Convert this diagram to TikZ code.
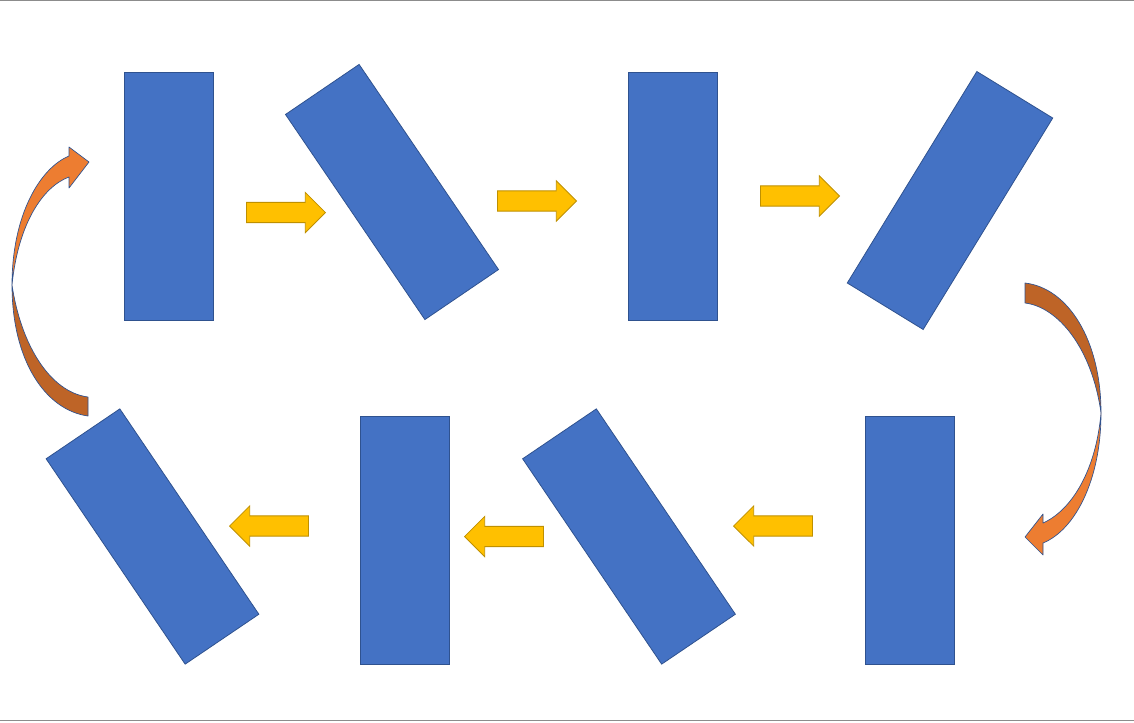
\documentclass[tikz,border=0pt]{standalone}
\usetikzlibrary{shapes.arrows}

\definecolor{barblue}{HTML}{4472C4}
\definecolor{barline}{HTML}{2F528F}
\definecolor{arrowgold}{HTML}{FFC000}
\definecolor{arrowline}{HTML}{BF9000}
\definecolor{turnlight}{HTML}{ED7D31}
\definecolor{turndark}{HTML}{BE6427}
\definecolor{framegray}{HTML}{8C8C8C}

\begin{document}
\begin{tikzpicture}[x=0.75pt, y=-0.75pt,
  bar/.style={draw=barline, line width=0.6pt, fill=barblue, inner sep=0pt,
    minimum width=66.75pt, minimum height=186pt},
  push/.style={single arrow, draw=arrowline, line width=0.6pt, fill=arrowgold,
    inner xsep=0pt, inner ysep=7.3pt, minimum width=1pt, minimum height=59.25pt,
    single arrow head extend=7.5pt, anchor=tip},
  turn/.style={draw=barline, line width=0.5pt, line join=round}]
\useasboundingbox (0,0) rectangle (1134,722);
% frame lines
\draw[framegray, line width=1pt] (0,0.7) -- (1134,0.7);
\draw[framegray, line width=1pt] (0,720.5) -- (1134,720.5);
% top row
\node[bar] (bar1) at (168.5,196) {};
\node[bar, rotate=34.2] (bar2) at (392,192) {};
\node[bar] (bar3) at (673,196) {};
\node[bar, rotate=-31.5] (bar4) at (950,200.5) {};
% bottom row
\node[bar] (bar5) at (910,540) {};
\node[bar, rotate=34.1] (bar6) at (629,536.5) {};
\node[bar] (bar7) at (405,540) {};
\node[bar, rotate=34.1] (bar8) at (152.5,536.5) {};
% straight arrows
\node[push] (a12) at (326,212.5) {};
\node[push] (a23) at (577,201) {};
\node[push] (a34) at (840,196) {};
\node[push, shape border rotate=180] (a56) at (733,526) {};
\node[push, shape border rotate=180] (a67) at (464,536.5) {};
\node[push, shape border rotate=180] (a78) at (229,526) {};
% right turn
\filldraw[turn, fill=turndark] (1101,413) .. controls (1101,340) and (1068,288) .. (1025,283)
  -- (1025,303) .. controls (1058,307) and (1092,348) .. (1101,413) -- cycle;
\filldraw[turn, fill=turnlight] (1101,413) .. controls (1101,480) and (1075,530) .. (1043,543)
  -- (1043,555) -- (1025,537) -- (1043,514) -- (1043,523)
  .. controls (1072,510) and (1096,470) .. (1101,413) -- cycle;
% left turn
\filldraw[turn, fill=turndark] (12,285) .. controls (12,360) and (45,410) .. (88,416)
  -- (88,397) .. controls (50,392) and (21,345) .. (12,285) -- cycle;
\filldraw[turn, fill=turnlight] (12,285) .. controls (12,215) and (40,168) .. (69,156)
  -- (69,147) -- (89,162) -- (69,188) -- (69,177)
  .. controls (42,187) and (18,225) .. (12,285) -- cycle;
\end{tikzpicture}
\end{document}
